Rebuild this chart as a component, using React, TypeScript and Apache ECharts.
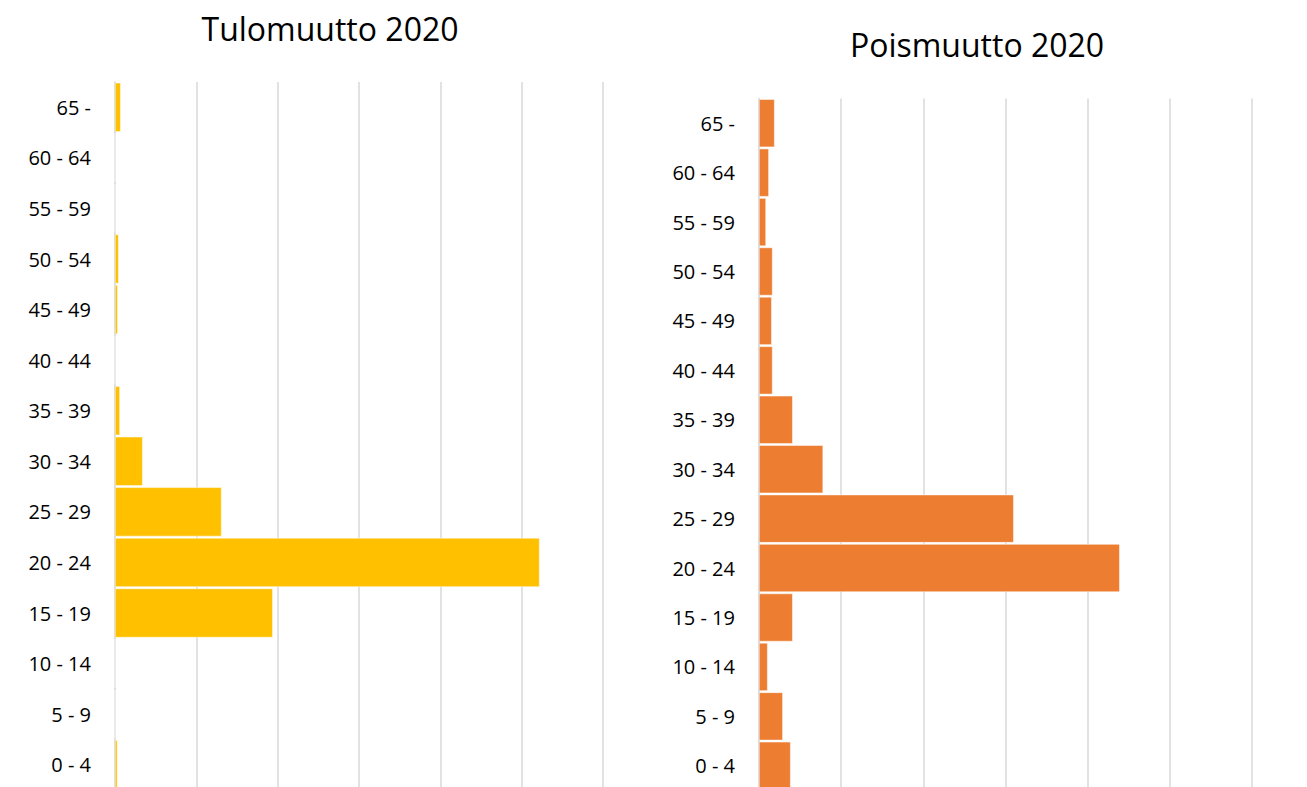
import React, { useEffect, useRef } from "react";
import * as echarts from "echarts";

const categories = ["0 - 4", "5 - 9", "10 - 14", "15 - 19", "20 - 24", "25 - 29", "30 - 34", "35 - 39", "40 - 44", "45 - 49", "50 - 54", "55 - 59", "60 - 64", "65 -"];
const tuloValues = [0.3, 0, 0, 19.4, 52.2, 13.1, 3.4, 0.6, 0, 0.33, 0.45, 0, 0, 0.7];
const poisValues = [3.85, 2.9, 1.05, 4.1, 43.9, 31.0, 7.8, 4.1, 1.65, 1.55, 1.65, 0.85, 1.2, 1.9];
const titles = ["Tulomuutto 2020", "Poismuutto 2020"];

const FONT = "'Open Sans', 'Noto Sans', sans-serif";

export default function App() {
  const ref = useRef<HTMLDivElement>(null);
  useEffect(() => {
    if (!ref.current) return;
    const chart = echarts.init(ref.current, undefined, { renderer: "svg" });
    const axisX = (gridIndex: number) => ({
      type: "value",
      gridIndex,
      min: 0,
      max: 60,
      interval: 10,
      axisLabel: { show: false },
      axisLine: { show: false },
      axisTick: { show: false },
      splitLine: { show: true, lineStyle: { color: "#d9d9d9", width: 1.5 } },
    });
    const axisY = (gridIndex: number) => ({
      type: "category",
      gridIndex,
      data: categories,
      axisLine: { show: true, lineStyle: { color: "#d9d9d9", width: 1.5 } },
      axisTick: { show: false },
      axisLabel: { color: "#000", fontSize: 20, fontFamily: FONT, margin: 24 },
    });
    chart.setOption({
      animation: false,
      backgroundColor: "#fff",
      grid: [
        { left: 115, width: 488, top: 82, bottom: 10 },
        { left: 759, width: 493, top: 98.5, bottom: 9.5 },
      ],
      xAxis: [axisX(0), axisX(1)],
      yAxis: [axisY(0), axisY(1)],
      series: [
        {
          type: "bar",
          xAxisIndex: 0,
          yAxisIndex: 0,
          data: tuloValues,
          barCategoryGap: "3%",
          itemStyle: { color: "#FFC000", borderColor: "#fff", borderWidth: 0.5 },
        },
        {
          type: "bar",
          xAxisIndex: 1,
          yAxisIndex: 1,
          data: poisValues,
          barCategoryGap: "3%",
          itemStyle: { color: "#ED7D31", borderColor: "#fff", borderWidth: 0.5 },
        },
      ],
      graphic: [
        {
          type: "text",
          x: 330,
          y: 28,
          style: { text: titles[0], fontSize: 32, fontFamily: FONT, fill: "#000", textAlign: "center", textVerticalAlign: "middle" },
        },
        {
          type: "text",
          x: 977,
          y: 44,
          style: { text: titles[1], fontSize: 32, fontFamily: FONT, fill: "#000", textAlign: "center", textVerticalAlign: "middle" },
        },
      ],
    });
    return () => chart.dispose();
  }, []);
  return (
    <div style={{ position: "fixed", left: 0, top: 0, width: 1307, height: 787, overflow: "hidden", background: "#fff" }}>
      <div ref={ref} style={{ width: 1307, height: 800 }} />
    </div>
  );
}
